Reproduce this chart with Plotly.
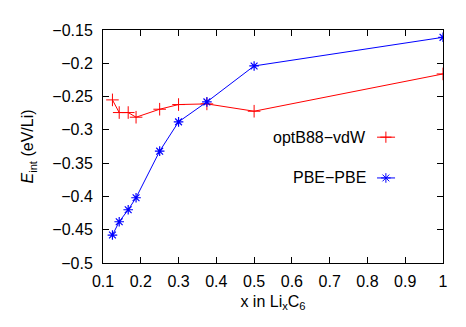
import plotly.graph_objects as go

# x in LixC6
x_vals = [0.125, 0.1429, 0.1667, 0.1875, 0.25, 0.3, 0.375, 0.5, 1.0]
optb88 = [-0.255, -0.274, -0.274, -0.281, -0.269, -0.262, -0.261, -0.272, -0.216]
pbe = [-0.458, -0.438, -0.420, -0.402, -0.332, -0.288, -0.258, -0.204, -0.161]

x_ticks = [0.1, 0.2, 0.3, 0.4, 0.5, 0.6, 0.7, 0.8, 0.9, 1]
y_ticks = [-0.5, -0.45, -0.4, -0.35, -0.3, -0.25, -0.2, -0.15]
y_labels = ["\u22120.5", "\u22120.45", "\u22120.4", "\u22120.35", "\u22120.3",
            "\u22120.25", "\u22120.2", "\u22120.15"]

FONT = "Liberation Sans, Arial, sans-serif"
FS = 16
RED = "#ff0000"
BLUE = "#0000ff"

fig = go.Figure()

fig.add_trace(go.Scatter(
    x=x_vals, y=optb88, mode="lines+markers", name="optB88-vdW",
    line=dict(color=RED, width=1),
    marker=dict(symbol="cross-thin", size=9, line=dict(color=RED, width=1)),
    showlegend=False))

fig.add_trace(go.Scatter(
    x=x_vals, y=pbe, mode="lines+markers", name="PBE-PBE",
    line=dict(color=BLUE, width=1),
    marker=dict(symbol="asterisk", size=8, line=dict(color=BLUE, width=1.2)),
    showlegend=False))

# gnuplot-style key: text then sample, drawn on a helper axis (0-1 paper-like)
key = [("optB88-vdW", RED, "cross-thin", 0.54),
       ("PBE-PBE", BLUE, "asterisk", 0.365)]
for label, color, sym, ky in key:
    fig.add_trace(go.Scatter(
        x=[0.806, 0.859], y=[ky, ky], mode="lines", xaxis="x2", yaxis="y2",
        showlegend=False, hoverinfo="skip", line=dict(color=color, width=1)))
    fig.add_trace(go.Scatter(
        x=[0.832], y=[ky], mode="markers", xaxis="x2", yaxis="y2",
        showlegend=False, hoverinfo="skip",
        marker=dict(symbol=sym, size=8, line=dict(color=color, width=1))))
    fig.add_annotation(x=0.778, y=ky, xref="x2", yref="y2",
                       text=label.replace("-", "\u2212"),
                       showarrow=False, xanchor="right",
                       font=dict(family=FONT, size=FS, color="black"))

axis_common = dict(
    showline=True, linecolor="black", linewidth=1, mirror="allticks",
    ticks="inside", ticklen=6, tickcolor="black", showgrid=False, zeroline=False,
    tickfont=dict(family=FONT, size=FS, color="black"))

fig.update_layout(
    width=466, height=327,
    margin=dict(l=95, r=31, t=22, b=72),
    paper_bgcolor="white", plot_bgcolor="white",
    font=dict(family=FONT, size=FS, color="black"),
    xaxis=dict(range=[0.1, 1], tickvals=x_ticks,
               ticktext=[str(t) for t in x_ticks],
               ticklabelstandoff=4,
               title=dict(text="x in Li<sub>x</sub>C<sub>6</sub>",
                          font=dict(family=FONT, size=FS), standoff=6),
               **axis_common),
    yaxis=dict(range=[-0.5, -0.15], tickvals=y_ticks, ticktext=y_labels,
               ticklabelstandoff=6,
               title=dict(text="<i>E</i><sub>int</sub> (eV/Li)",
                          font=dict(family=FONT, size=FS), standoff=14),
               **axis_common),
    xaxis2=dict(range=[0, 1], overlaying="x", visible=False, fixedrange=True),
    yaxis2=dict(range=[0, 1], overlaying="y", visible=False, fixedrange=True),
)

fig.write_html("out.html")
